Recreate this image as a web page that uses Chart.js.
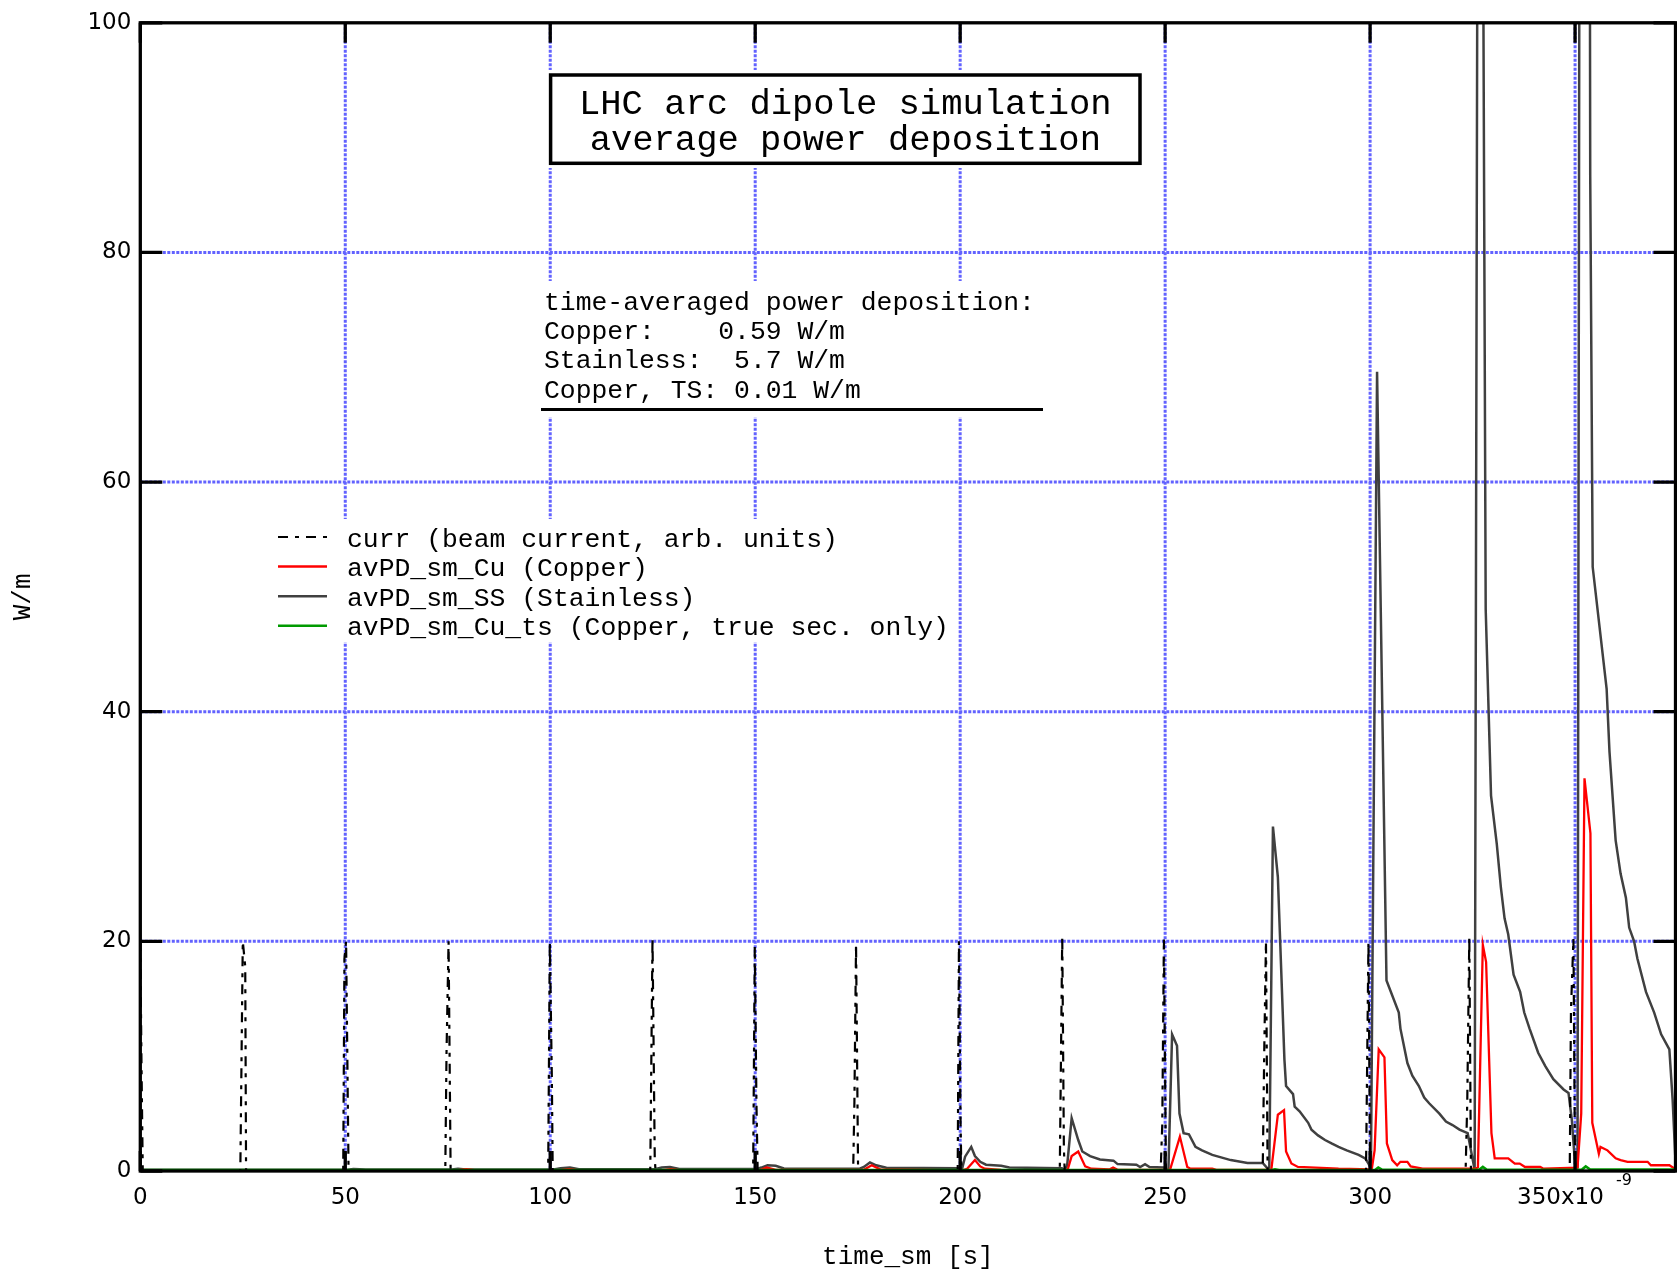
<!DOCTYPE html>
<html>
<head>
<meta charset="utf-8">
<script src="https://cdn.jsdelivr.net/npm/chart.js@4.4.1/dist/chart.umd.min.js"></script>
<style>
  html, body { margin: 0; padding: 0; background: #fff; }
  canvas { display: block; }
</style>
</head>
<body>
<canvas id="c" width="1677" height="1273"></canvas>
<script>
// ---------------- data ----------------
// time axis in ns (axis label shows x10^-9 s)
const xTickLabels = ['0', '50', '100', '150', '200', '250', '300', '350x10'];
const yTickLabels = ['0', '20', '40', '60', '80', '100'];

const seriesLabels = [
  'curr (beam current, arb. units)',
  'avPD_sm_Cu (Copper)',
  'avPD_sm_SS (Stainless)',
  'avPD_sm_Cu_ts (Copper, true sec. only)'
];

// beam current (arb. units)
const currT = [0, 0.3, 0.6,
  24.4, 25.0, 25.6, 25.8,
  49.5, 49.8, 50.2, 50.8,
  74.4, 74.7, 75.2, 75.7,
  99.5, 99.9, 100.4, 100.6,
  124.4, 124.95, 125.5, 125.7,
  149.5, 149.9, 150.3, 150.6,
  173.9, 174.2, 174.6, 175.1,
  199.4, 199.7, 200.1, 200.3,
  224.3, 224.9, 225.3, 225.5,
  248.9, 249.3, 249.7, 250.2,
  273.8, 274.2, 274.6, 275.0,
  299.0, 299.3, 299.6, 300.0,
  323.3, 323.7, 324.2, 324.6,
  348.7, 349.0, 349.6, 350.0,
  374.6];
const currV = [20, 9, 0,
  0, 20, 17.8, 0,
  0, 18.5, 20, 0,
  0, 10.3, 20, 0,
  0, 20, 8, 0,
  0, 20.3, 1.0, 0,
  0, 19.5, 6, 0,
  0, 6, 19.8, 0,
  0, 20, 4, 0,
  0, 20.5, 2, 0,
  0, 4, 20.2, 0,
  0, 11, 20, 0,
  0, 10, 20, 0,
  0, 6, 20.4, 0,
  0, 14, 20.2, 0,
  0];

// copper (W/m)
const cuT = [0, 77, 79.6, 82, 102, 104.6, 107, 127, 129.4, 132,
  151, 152.8, 155, 176.5, 178.4, 180.5,
  200.6, 201.7, 203.6, 204.9, 206, 210,
  225.8, 226.3, 227.2, 228.8, 230.5, 232, 236.5, 237.3, 238.3,
  251.2, 253.6, 255.4, 256.2, 261.5, 262.5,
  275.9, 277.5, 279.0, 279.5, 280.8, 282.4, 292.3,
  300.4, 301.1, 302.1, 303.5, 304.1, 305.4, 306.6, 307.4, 309.1, 309.9, 312.8,
  325.6, 326.3, 327.5, 328.3, 329.6, 330.4, 333.7, 335.3, 336.5, 337.8, 341.5, 342.3,
  350.6, 351.5, 352.3, 353.75, 354.2, 355.8, 356.2, 357.9, 359.9, 361.1, 362.8, 367.7, 368.5, 373.0, 374.3, 374.6];
const cuV = [0.05, 0.05, 0.15, 0.05, 0.05, 0.15, 0.05, 0.05, 0.15, 0.05,
  0.05, 0.3, 0.1, 0.1, 0.5, 0.15,
  0.05, 0.2, 0.95, 0.4, 0.2, 0.1,
  0.05, 0.2, 1.3, 1.7, 0.4, 0.2, 0.15, 0.3, 0.12,
  0.1, 3.0, 0.35, 0.2, 0.2, 0.1,
  0.1, 4.9, 5.3, 1.7, 0.65, 0.35, 0.2,
  0.15, 1.8, 10.6, 9.9, 2.4, 0.95, 0.5, 0.8, 0.8, 0.4, 0.2,
  0.2, 0.3, 19.7, 18.2, 3.3, 1.1, 1.1, 0.65, 0.65, 0.35, 0.35, 0.2,
  0.3, 5.0, 34.2, 29.4, 4.2, 1.5, 2.1, 1.8, 1.1, 0.95, 0.8, 0.8, 0.5, 0.5, 0.2, 0.2];

// stainless (W/m)
const ssT = [0, 50.5, 52, 55, 75.5, 77.5, 80, 100.5, 102.5, 104.8, 107,
  125.5, 127.2, 129.2, 131.5, 150.5, 151.5, 153, 155, 157,
  175.5, 176.5, 178, 179.5, 182,
  199.8, 200.4, 201.2, 202.7, 203.6, 204.9, 206.3, 210, 212,
  224.8, 225.5, 226.1, 227.2, 228.8, 229.8, 231.7, 234.1, 237.4, 238.4, 243.0, 243.9, 245.1, 246.2,
  249.6, 250.8, 251.7, 252.9, 253.5, 254.5, 255.8, 257.4, 259.0, 261.5, 266.0, 270.1, 273.8,
  275.4, 276.3, 277.5, 279.1, 279.5, 281.2, 281.6, 282.8, 284.9, 285.7, 287.3, 289.0, 290.6, 292.3, 294.3, 297.2, 298.8, 299.6,
  300.2, 301.7, 304.0, 307.0, 307.4, 309.1, 310.3, 311.9, 313.2, 314.4, 316.9, 318.5, 320.1, 321.8, 323.8,
  325.5, 327.0, 327.6, 328.2, 329.5, 330.9, 331.9, 332.8, 333.7, 335.0, 336.6, 337.6, 338.9, 341.0, 342.7, 344.7, 347.2, 348.4, 349.2,
  350.1, 350.6, 352.3, 353.7, 354.3, 357.7, 358.4, 359.9, 361.1, 362.4, 363.2, 364.4, 365.2, 367.3, 369.3, 371.0, 373.0, 373.8, 374.6];
const ssV = [0.1, 0.1, 0.18, 0.12, 0.12, 0.2, 0.12, 0.12, 0.25, 0.3, 0.15,
  0.15, 0.3, 0.35, 0.18, 0.18, 0.3, 0.5, 0.45, 0.22,
  0.2, 0.35, 0.75, 0.5, 0.28,
  0.25, 0.1, 1.25, 2.1, 1.3, 0.8, 0.55, 0.45, 0.3,
  0.25, 0.1, 0.5, 4.6, 2.7, 1.7, 1.3, 1.0, 0.9, 0.6, 0.55, 0.35, 0.6, 0.35,
  0.3, 0.1, 11.9, 10.9, 5.0, 3.3, 3.2, 2.1, 1.8, 1.4, 0.95, 0.7, 0.7,
  0.05, 30.0, 25.6, 9.7, 7.4, 6.7, 5.6, 5.2, 4.2, 3.6, 3.1, 2.7, 2.4, 2.1, 1.8, 1.4, 1.1, 0.65,
  0.15, 69.6, 16.6, 13.8, 12.4, 9.4, 8.3, 7.4, 6.4, 5.9, 5.0, 4.3, 4.0, 3.6, 3.3,
  0.1, 240, 105, 48.9, 32.7, 28.5, 24.7, 22.0, 20.6, 17.1, 15.6, 13.8, 12.4, 10.3, 9.15, 8.0, 7.1, 6.8, 4.5,
  0.1, 0.3, 400, 86.6, 52.6, 42.0, 36.5, 28.8, 25.9, 23.8, 21.2, 20.0, 18.5, 15.6, 13.8, 11.9, 10.6, 6.2, 0.1];

// copper, true secondaries only (W/m)
const tsT = [0, 276, 276.8, 277.8, 301.2, 302.0, 303.0, 326.6, 327.5, 328.5, 351.6, 352.6, 353.6, 374.6];
const tsV = [0.08, 0.08, 0.15, 0.08, 0.08, 0.3, 0.1, 0.1, 0.35, 0.1, 0.1, 0.4, 0.15, 0.12];

const statsLines = [
  'time-averaged power deposition:',
  'Copper:    0.59 W/m',
  'Stainless:  5.7 W/m',
  'Copper, TS: 0.01 W/m'
];
const titleLines = ['LHC arc dipole simulation', 'average power deposition'];

// ---------------- chart ----------------
const mk = (T, V) => T.map((t, i) => ({ x: t, y: V[i] }));
const MONO = '"Liberation Mono", "DejaVu Sans Mono", monospace';
const SANS = '"DejaVu Sans", sans-serif';

const decor = {
  id: 'decor',
  beforeDatasetsDraw(chart) {
    const { ctx, chartArea: a, scales: { x, y } } = chart;
    ctx.save();
    // dotted blue grid
    ctx.strokeStyle = '#6262ff';
    ctx.lineWidth = 3;
    ctx.setLineDash([3, 1.5]);
    y.ticks.forEach(t => {
      if (t.value <= y.min || t.value >= y.max) return;
      const p = y.getPixelForValue(t.value);
      ctx.beginPath(); ctx.moveTo(a.left, p); ctx.lineTo(a.right, p); ctx.stroke();
    });
    x.ticks.forEach(t => {
      if (t.value <= x.min || t.value >= x.max) return;
      const p = x.getPixelForValue(t.value);
      ctx.beginPath(); ctx.moveTo(p, a.top); ctx.lineTo(p, a.bottom); ctx.stroke();
    });
    ctx.setLineDash([]);
    // white backgrounds of annotation boxes
    ctx.fillStyle = '#fff';
    ctx.fillRect(545, 70, 600, 98);     // title box
    ctx.fillRect(538, 281, 510, 136);   // stats text
    ctx.fillRect(268, 519, 686, 123);   // legend
    ctx.restore();
  },
  afterDatasetsDraw(chart) {
    const { ctx, chartArea: a, scales: { x, y } } = chart;
    ctx.save();
    ctx.strokeStyle = '#000';
    ctx.lineWidth = 3.3;
    ctx.setLineDash([]);
    ctx.strokeRect(a.left, a.top, a.right - a.left, a.bottom - a.top);
    // inward major ticks on all four sides
    y.ticks.forEach(t => {
      const p = y.getPixelForValue(t.value);
      ctx.beginPath();
      ctx.moveTo(a.left, p); ctx.lineTo(a.left + 22, p);
      ctx.moveTo(a.right - 22, p); ctx.lineTo(a.right, p);
      ctx.stroke();
    });
    x.ticks.forEach(t => {
      const p = x.getPixelForValue(t.value);
      ctx.beginPath();
      ctx.moveTo(p, a.bottom); ctx.lineTo(p, a.bottom - 20);
      ctx.moveTo(p, a.top); ctx.lineTo(p, a.top + 20);
      ctx.stroke();
    });
    ctx.restore();
  },
  afterDraw(chart) {
    const { ctx, scales: { x } } = chart;
    ctx.save();
    ctx.fillStyle = '#000';
    ctx.strokeStyle = '#000';
    // title box
    ctx.lineWidth = 3.5;
    ctx.strokeRect(550.6, 75, 589.4, 88.3);
    ctx.font = '35.5px ' + MONO;
    ctx.textAlign = 'center';
    ctx.textBaseline = 'alphabetic';
    ctx.fillText(titleLines[0], 845.3, 113.5);
    ctx.fillText(titleLines[1], 845.3, 150.2);
    // stats text
    ctx.textAlign = 'left';
    ctx.font = '26.4px ' + MONO;
    const sb = [310, 339.3, 368.4, 397.5];
    statsLines.forEach((s, i) => ctx.fillText(s, 544, sb[i]));
    ctx.lineWidth = 3;
    ctx.beginPath(); ctx.moveTo(541, 409.5); ctx.lineTo(1043, 409.5); ctx.stroke();
    // legend
    const lb = [546.5, 576, 605.7, 635.2];
    chart.data.datasets.forEach((ds, i) => {
      ctx.save();
      ctx.strokeStyle = ds.borderColor;
      ctx.lineWidth = ds.borderWidth;
      ctx.setLineDash(ds.borderDash || []);
      ctx.beginPath(); ctx.moveTo(278, lb[i] - 9.5); ctx.lineTo(327, lb[i] - 9.5); ctx.stroke();
      ctx.restore();
      ctx.fillText(ds.label, 347, lb[i]);
    });
    // exponent of the time axis
    ctx.font = '16px ' + SANS;
    ctx.fillText('-9', x.getPixelForValue(350) + 41, 1185);
    ctx.restore();
  }
};

new Chart(document.getElementById('c'), {
  type: 'line',
  data: {
    datasets: [
      { label: seriesLabels[0], data: mk(currT, currV), borderColor: '#000000', borderWidth: 2.2, borderDash: [10, 7, 4, 7], order: 0 },
      { label: seriesLabels[1], data: mk(cuT, cuV), borderColor: '#ff0000', borderWidth: 2.3, order: 2 },
      { label: seriesLabels[2], data: mk(ssT, ssV), borderColor: '#404040', borderWidth: 2.5, order: 3 },
      { label: seriesLabels[3], data: mk(tsT, tsV), borderColor: '#009a00', borderWidth: 2.6, order: 1 }
    ]
  },
  options: {
    responsive: false,
    animation: false,
    devicePixelRatio: 1,
    events: [],
    elements: {
      point: { radius: 0 },
      line: { tension: 0, fill: false, borderJoinStyle: 'miter' }
    },
    layout: { padding: { left: 0, right: 1.5, top: 20.5, bottom: 0 } },
    plugins: { legend: { display: false }, tooltip: { enabled: false }, title: { display: false } },
    scales: {
      x: {
        type: 'linear', min: 0, max: 374.5,
        grid: { display: false, drawTicks: false },
        border: { display: false },
        ticks: {
          stepSize: 50, includeBounds: false, autoSkip: false, maxRotation: 0, minRotation: 0,
          padding: 13, color: '#000', font: { family: SANS, size: 23 },
          callback: (v) => { const i = Math.round(v / 50); const s = xTickLabels[i] || String(v); return i === 7 ? s + '    ' : s; }
        },
        title: { display: true, text: 'time_sm [s]', color: '#000', font: { family: MONO, size: 26, lineHeight: 1 }, padding: { top: 0, bottom: 3 } },
        afterFit: (s) => { s.height = 102; }
      },
      y: {
        min: 0, max: 100,
        grid: { display: false, drawTicks: false },
        border: { display: false },
        ticks: {
          stepSize: 20, includeBounds: false, padding: 9, color: '#000', font: { family: SANS, size: 23 },
          callback: (v) => yTickLabels[Math.round(v / 20)] ?? String(v)
        },
        title: { display: true, text: 'W/m', color: '#000', font: { family: MONO, size: 26, lineHeight: 1 }, padding: { top: 10.5, bottom: 0 } },
        afterFit: (s) => { s.width = 140.3; }
      }
    }
  },
  plugins: [decor]
});
</script>
</body>
</html>
